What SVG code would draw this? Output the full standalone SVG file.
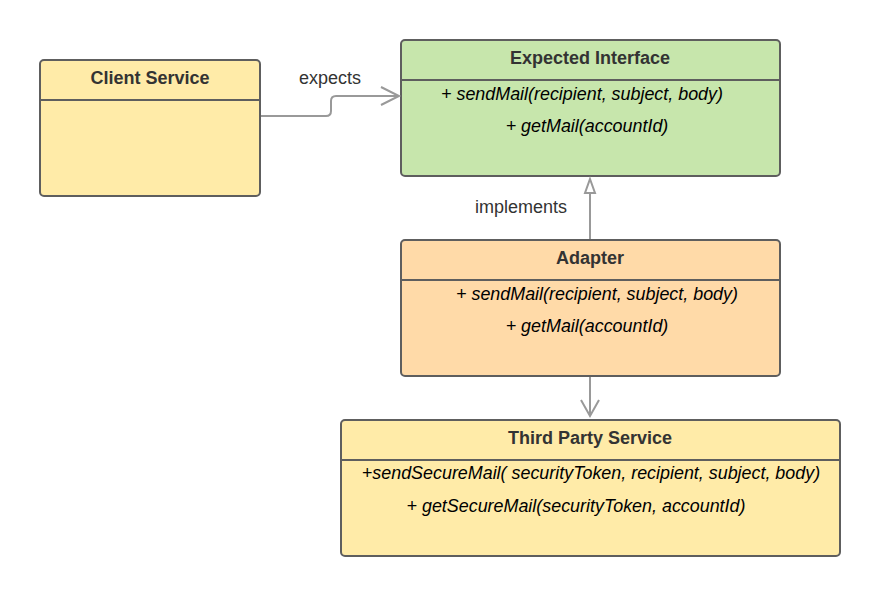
<svg xmlns="http://www.w3.org/2000/svg" width="880" height="596" viewBox="0 0 880 596">
<style>
.box{stroke:#5e5e5e;stroke-width:2}
.div{stroke:#5e5e5e;stroke-width:2;fill:none}
.title{font-family:"Liberation Sans",Arial,sans-serif;font-weight:bold;font-size:18px;fill:#333;text-anchor:middle}
.m{font-family:"Liberation Sans",Arial,sans-serif;font-style:italic;font-size:17.9px;fill:#000;text-anchor:middle}
.lbl{font-family:"Liberation Sans",Arial,sans-serif;font-size:18px;fill:#333;text-anchor:middle}
.conn{stroke:#999;stroke-width:2;fill:none}
</style>
<rect width="880" height="596" fill="#fff"/>
<g id="client-service">
<rect class="box" x="40" y="60" width="220" height="136" rx="4" fill="#FFEBA8"/>
<line class="div" x1="40" y1="100" x2="260" y2="100"/>
<text class="title" x="150" y="84">Client Service</text>
</g>
<g id="expected-interface">
<rect class="box" x="401" y="40" width="379" height="136" rx="4" fill="#C7E6AC"/>
<line class="div" x1="401" y1="80" x2="780" y2="80"/>
<text class="title" x="590" y="64">Expected Interface</text>
<text class="m" x="582" y="100">+ sendMail(recipient, subject, body)</text>
<text class="m" x="587" y="132">+ getMail(accountId)</text>
</g>
<g id="adapter">
<rect class="box" x="401" y="240" width="379" height="136" rx="4" fill="#FFDAA8"/>
<line class="div" x1="401" y1="280" x2="780" y2="280"/>
<text class="title" x="590" y="264">Adapter</text>
<text class="m" x="597" y="300">+ sendMail(recipient, subject, body)</text>
<text class="m" x="587" y="332">+ getMail(accountId)</text>
</g>
<g id="third-party-service">
<rect class="box" x="341" y="420" width="499" height="136" rx="4" fill="#FFEBA8"/>
<line class="div" x1="341" y1="460" x2="840" y2="460"/>
<text class="title" x="590" y="444">Third Party Service</text>
<text class="m" x="591" y="479">+sendSecureMail( securityToken, recipient, subject, body)</text>
<text class="m" x="576" y="512">+ getSecureMail(securityToken, accountId)</text>
</g>
<g id="connectors">
<path class="conn" d="M261 116 H326 Q331 116 331 111 V101 Q331 96 336 96 H398"/>
<path class="conn" d="M381 87 L399 96 L381 105"/>
<text class="lbl" x="330" y="84">expects</text>
<line class="conn" x1="590" y1="239" x2="590" y2="193"/>
<path d="M590 179 L595 193 L585 193 Z" fill="#fff" stroke="#999" stroke-width="2"/>
<text class="lbl" x="521" y="213">implements</text>
<line class="conn" x1="590" y1="377" x2="590" y2="416"/>
<path class="conn" d="M581 400 L590 416 L599 400"/>
</g>
</svg>
